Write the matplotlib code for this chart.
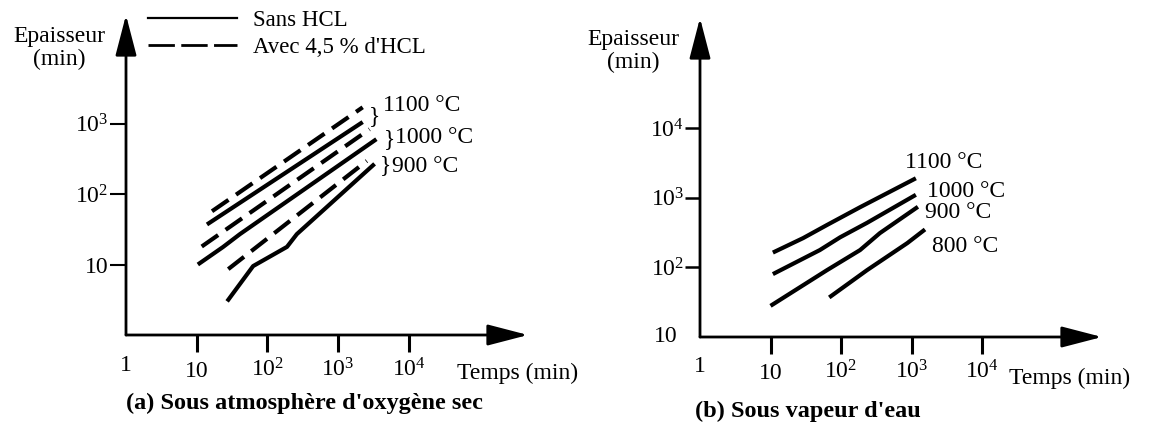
import matplotlib
matplotlib.use("Agg")
import matplotlib.pyplot as plt
from matplotlib.lines import Line2D

plt.rcParams['font.family'] = ['Liberation Serif', 'DejaVu Serif']
plt.rcParams['mathtext.fontset'] = 'custom'
plt.rcParams['mathtext.rm'] = 'Liberation Serif'
plt.rcParams['mathtext.it'] = 'Liberation Serif:italic'

# (a) dry oxygen: time (min) vs thickness
a_sans_1100_t = [14, 2240]
a_sans_1100_e = [37, 1050]
a_sans_1000_t = [10.4, 23.6, 41, 3500]
a_sans_1000_e = [10, 17.7, 27, 600]
a_sans_900_t = [27, 63, 190, 262, 3300]
a_sans_900_e = [3.0, 9.5, 17.8, 27, 268]
a_hcl_1100_t = [16.5, 2240]
a_hcl_1100_e = [57, 1700]
a_hcl_1000_t = [11.8, 2800]
a_hcl_1000_e = [18, 830]
a_hcl_900_t = [28, 2560]
a_hcl_900_e = [8.6, 295]

# (b) steam
b_1100_t = [10.8, 29, 63, 186, 1150]
b_1100_e = [163, 263, 405, 730, 1900]
b_1000_t = [10.8, 50, 97, 233, 1150]
b_1000_e = [80, 177, 270, 435, 1100]
b_900_t = [10, 63, 186, 355, 1230]
b_900_e = [28, 91, 177, 310, 740]
b_800_t = [68, 233, 870, 1550]
b_800_e = [37, 91, 223, 350]

x_ticks = [10, 100, 1000, 10000]
x_labels = ['10', '$10^2$', '$10^3$', '$10^4$']
a_y_ticks = [10, 100, 1000]
a_y_labels = ['10', '$10^2$', '$10^3$']
b_y_ticks = [100, 1000, 10000]
b_y_labels = ['$10^2$', '$10^3$', '$10^4$']

W, H = 1164, 440
fig = plt.figure(figsize=(W / 100, H / 100), dpi=100)

FS = 17
TS = 17
LW = 3.0
DASH = (0, (4.8, 2.2))


def make_axes(x0, y0, x1, y1, xlim, ylim, temps_off):
    ax = fig.add_axes([x0 / W, 1 - y0 / H, (x1 - x0) / W, (y0 - y1) / H])
    ax.set_xscale('log')
    ax.set_yscale('log')
    ax.set_xlim(*xlim)
    ax.set_ylim(*ylim)
    for s in ax.spines.values():
        s.set_visible(False)
    ax.patch.set_alpha(0)
    ax.minorticks_off()
    arrow = dict(arrowstyle='-|>,head_length=1.0,head_width=0.26', lw=2,
                 color='black', mutation_scale=25, shrinkA=0, shrinkB=0)
    ax.annotate('', xy=(1, 0), xytext=(0, 0), xycoords='axes fraction',
                arrowprops=arrow, annotation_clip=False)
    ax.annotate('', xy=(0, 1), xytext=(0, 0), xycoords='axes fraction',
                arrowprops=arrow, annotation_clip=False)
    ax.set_xticks(x_ticks, x_labels, va='baseline')
    ax.tick_params(axis='x', direction='out', length=12, width=2.2, pad=18,
                   labelsize=TS)
    ax.tick_params(axis='y', direction='out', length=11.5, width=1.5, pad=1,
                   labelsize=TS)
    ax.annotate('1', xy=(1, 0), xycoords=('data', 'axes fraction'),
                xytext=(0, -30), textcoords='offset pixels',
                ha='center', va='center', fontsize=TS)
    ax.annotate('Temps (min)', xy=(1e4, 0), xycoords=('data', 'axes fraction'),
                xytext=temps_off, textcoords='offset pixels',
                ha='left', va='center', fontsize=FS)
    ax.annotate('Epaisseur\n(min)', xy=(0, 1), xycoords='axes fraction',
                xytext=(-67, -33), textcoords='offset pixels',
                ha='center', va='center', fontsize=FS, linespacing=1.15)
    return ax


# ---- (a) ----
ax1 = make_axes(126, 335, 528, 15, (1, 10 ** 5.69), (1, 10 ** 4.54), (48, -38))
ax1.set_yticks(a_y_ticks, a_y_labels)

for t, e in [(a_sans_1100_t, a_sans_1100_e), (a_sans_1000_t, a_sans_1000_e),
             (a_sans_900_t, a_sans_900_e)]:
    ax1.plot(t, e, color='black', lw=LW, solid_capstyle='butt')
for t, e in [(a_hcl_1100_t, a_hcl_1100_e), (a_hcl_1000_t, a_hcl_1000_e),
             (a_hcl_900_t, a_hcl_900_e)]:
    ax1.plot(t, e, color='black', lw=LW, linestyle=DASH)

groups = [
    ('1100 °C', a_sans_1100_t, a_sans_1100_e, a_hcl_1100_t, a_hcl_1100_e, (17, -2), (20, 9)),
    ('1000 °C', a_sans_1000_t, a_sans_1000_e, a_hcl_1000_t, a_hcl_1000_e, (19, -5), (19, -3)),
    ('900 °C', a_sans_900_t, a_sans_900_e, a_hcl_900_t, a_hcl_900_e, (17, -3), (17, -4)),
]
for lab, ts, es, th, eh, boff, toff in groups:
    xe = max(ts[-1], th[-1])
    ye = (es[-1] * eh[-1]) ** 0.5
    ax1.annotate('}', xy=(xe, ye), xytext=boff, textcoords='offset pixels',
                 ha='right', va='center', fontsize=FS)
    ax1.annotate(lab, xy=(xe, ye), xytext=toff, textcoords='offset pixels',
                 ha='left', va='center', fontsize=FS)

handles = [Line2D([], [], color='black', lw=1.6),
           Line2D([], [], color='black', lw=2.0, dashes=(9.5, 2.3))]
ax1.legend(handles, ['Sans HCL', "Avec 4,5 % d'HCL"], frameon=False,
           loc='upper left', bbox_to_anchor=(148 / W, 1 - 10 / H),
           bbox_transform=fig.transFigure, borderaxespad=0, borderpad=0,
           handlelength=3.9, handletextpad=0.7, labelspacing=0.25,
           fontsize=16.5)

ax1.annotate("(a) Sous atmosphère d'oxygène sec", xy=(0, 0),
             xycoords='axes fraction', xytext=(0, -68),
             textcoords='offset pixels', ha='left', va='center',
             fontsize=17.5, fontweight='bold')

# ---- (b) ----
ax2 = make_axes(700, 337, 1102, 18, (1, 10 ** 5.70), (10, 10 ** 5.58), (27, -41))
ax2.set_yticks(b_y_ticks, b_y_labels)
ax2.tick_params(axis='y', length=11, width=1.8, pad=0.5)
ax2.text(-0.055, 10, '10', transform=ax2.get_yaxis_transform(),
         ha='right', va='center', fontsize=TS)

b_series = [
    ('1100 °C', b_1100_t, b_1100_e, (-11, 16)),
    ('1000 °C', b_1000_t, b_1000_e, (11, 3)),
    ('900 °C', b_900_t, b_900_e, (7, -6)),
    ('800 °C', b_800_t, b_800_e, (7, -17)),
]
for lab, t, e, off in b_series:
    ax2.plot(t, e, color='black', lw=LW, solid_capstyle='butt')
    ax2.annotate(lab, xy=(t[-1], e[-1]), xytext=off, textcoords='offset pixels',
                 ha='left', va='center', fontsize=FS)

ax2.annotate("(b) Sous vapeur d'eau", xy=(0, 0), xycoords='axes fraction',
             xytext=(-5, -74), textcoords='offset pixels', ha='left',
             va='center', fontsize=17.5, fontweight='bold')

fig.savefig('out.png', dpi=100)
